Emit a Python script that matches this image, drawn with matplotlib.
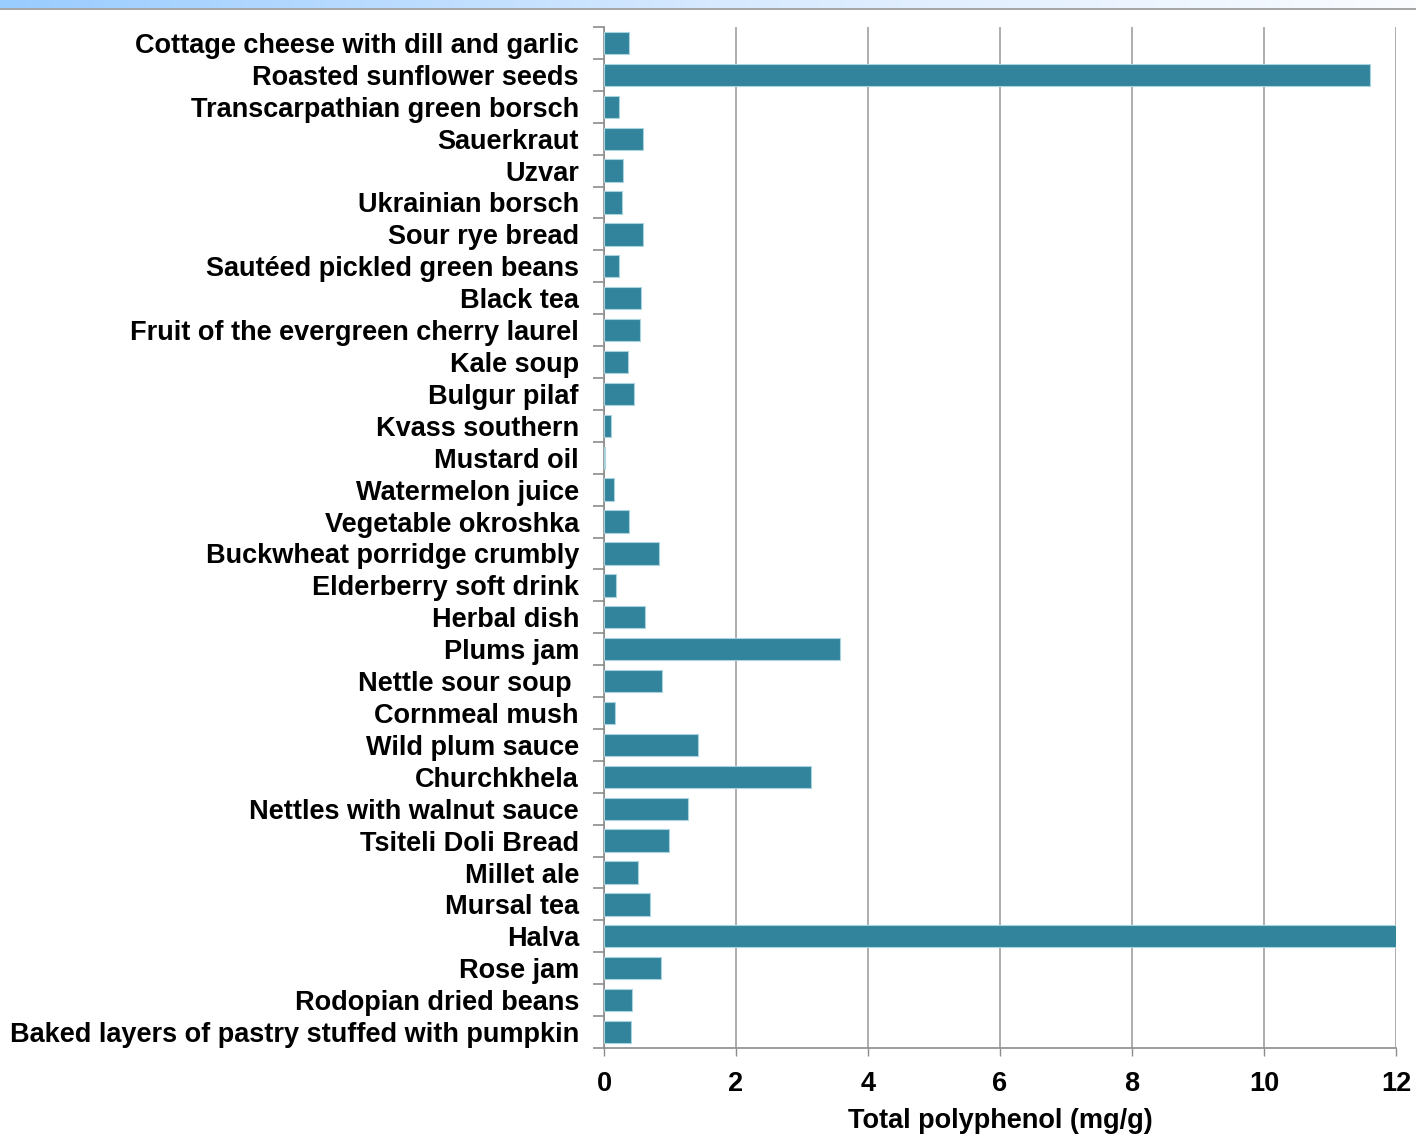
import numpy as np
import matplotlib
matplotlib.use("Agg")
import matplotlib.pyplot as plt
from matplotlib.colors import LinearSegmentedColormap

plt.rcParams['font.family'] = ['Liberation Sans', 'DejaVu Sans']
plt.rcParams['font.weight'] = 'bold'

foods = [
    "Cottage cheese with dill and garlic",
    "Roasted sunflower seeds",
    "Transcarpathian green borsch",
    "Sauerkraut",
    "Uzvar",
    "Ukrainian borsch",
    "Sour rye bread",
    "Sautéed pickled green beans",
    "Black tea",
    "Fruit of the evergreen cherry laurel",
    "Kale soup",
    "Bulgur pilaf",
    "Kvass southern",
    "Mustard oil",
    "Watermelon juice",
    "Vegetable okroshka",
    "Buckwheat porridge crumbly",
    "Elderberry soft drink",
    "Herbal dish",
    "Plums jam",
    "Nettle sour soup ",
    "Cornmeal mush",
    "Wild plum sauce",
    "Churchkhela",
    "Nettles with walnut sauce",
    "Tsiteli Doli Bread",
    "Millet ale",
    "Mursal tea",
    "Halva",
    "Rose jam",
    "Rodopian dried beans",
    "Baked layers of pastry stuffed with pumpkin",
]

polyphenol = [
    0.38, 11.6, 0.23, 0.59, 0.29, 0.27, 0.59, 0.23, 0.56, 0.55,
    0.36, 0.45, 0.11, 0.01, 0.15, 0.38, 0.83, 0.18, 0.62, 3.58,
    0.88, 0.17, 1.42, 3.14, 1.27, 0.98, 0.52, 0.70, 12.4, 0.86,
    0.42, 0.41,
]

x_ticks = [0, 2, 4, 6, 8, 10, 12]
x_label = "Total polyphenol (mg/g)"

FS = 19.5

W, H = 1416, 1147
fig = plt.figure(figsize=(W / 100, H / 100), dpi=100)

# header band: light blue fading to white, with a grey rule underneath
band = fig.add_axes([0, 1 - 8 / H, 1, 8 / H])
cmap = LinearSegmentedColormap.from_list("band", ["#99CCFF", "#D6E9FF", "#FAFCFF"])
band.imshow(np.linspace(0, 1, 256)[None, :], aspect="auto", cmap=cmap,
            extent=[0, 1, 0, 1])
band.set_axis_off()
rule = fig.add_axes([0, 1 - 10 / H, 1, 2 / H])
rule.set_facecolor("#A6A6A6")
rule.set_xticks([])
rule.set_yticks([])
for s in rule.spines.values():
    s.set_visible(False)

left, right = 604 / W, 1396 / W
top, bottom = 1 - 27 / H, 1 - 1048 / H
ax = fig.add_axes([left, bottom, right - left, top - bottom])

n = len(foods)
y = np.arange(n)
ax.barh(y, polyphenol, height=0.7, color="#31849B", edgecolor="#A9D3DE",
        linewidth=0.8, zorder=3)

ax.set_xlim(0, 12)
ax.set_ylim(n - 0.5, -0.5)

ax.set_xticks(x_ticks)
ax.set_xticklabels([str(t) for t in x_ticks], fontsize=FS, fontweight="bold")
ax.tick_params(axis="x", length=6, width=1, color="#8C8C8C", pad=10.5)
ax.xaxis.grid(True, color="#9E9E9E", linewidth=1.2, zorder=0)

ax.set_yticks(y)
ax.set_yticklabels(foods, fontsize=FS, fontweight="bold")
ax.tick_params(axis="y", which="major", length=0, pad=18)
ax.set_yticks(np.arange(-0.5, n, 1.0), minor=True)
ax.tick_params(axis="y", which="minor", length=8, width=1.2, color="#8C8C8C")

for side in ("top", "right"):
    ax.spines[side].set_visible(False)
for side in ("left", "bottom"):
    ax.spines[side].set_color("#8C8C8C")
    ax.spines[side].set_linewidth(1.2)

ax.set_xlabel(x_label, fontsize=FS, fontweight="bold", va="center")
ax.xaxis.set_label_coords(0.5, -73 / 1021)

fig.savefig("out.png", dpi=100)
